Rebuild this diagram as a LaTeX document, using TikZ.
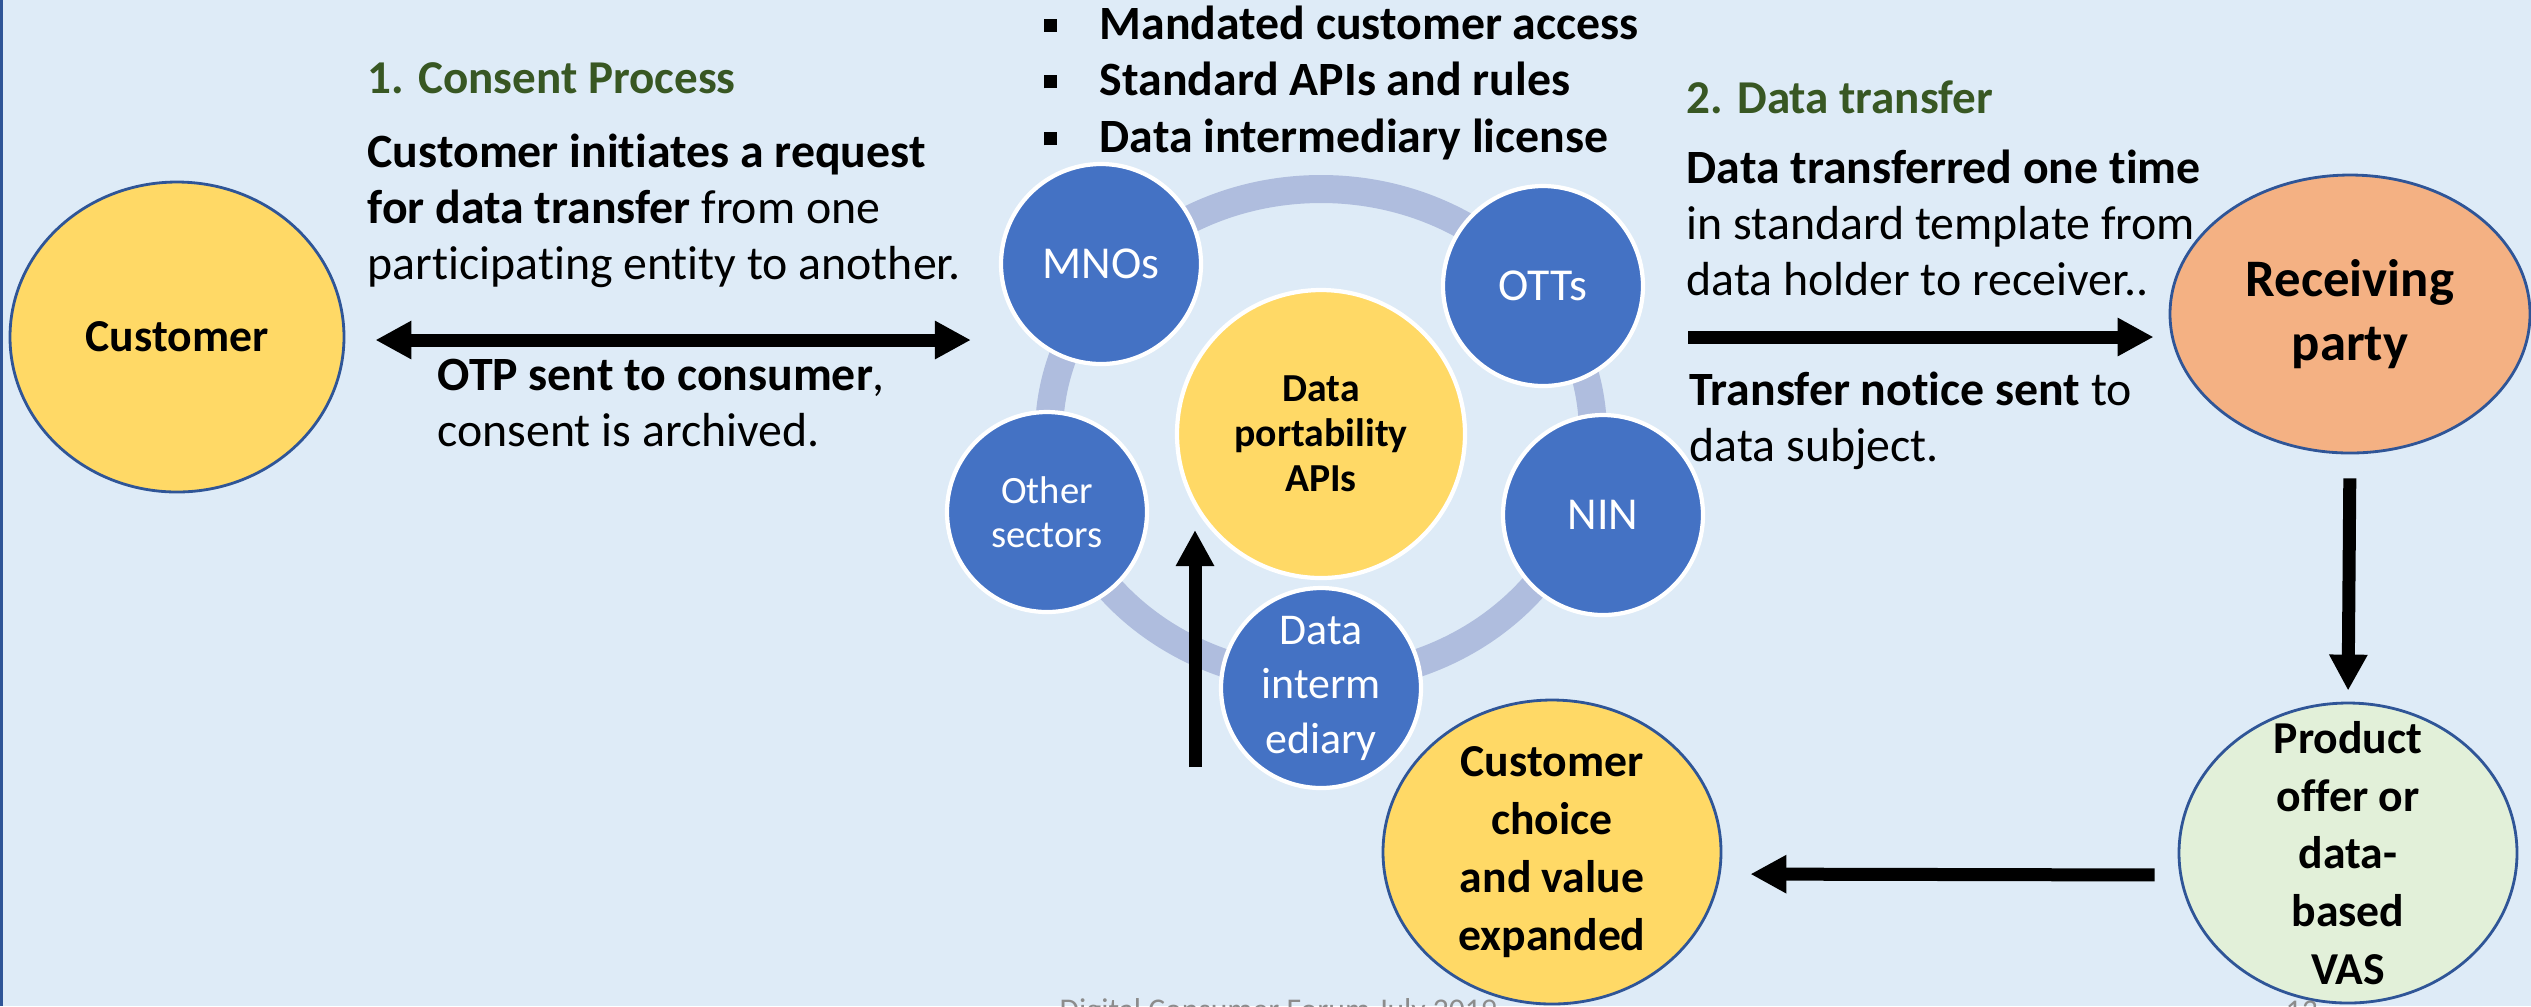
\documentclass[tikz,border=0pt]{standalone}
\usepackage{fontspec}
\setmainfont{Carlito}[Ligatures=NoCommon]
\usepackage{tikz}
\usetikzlibrary{arrows.meta,shapes.geometric,calc}
\definecolor{figbg}{RGB}{222,235,247}
\definecolor{figblue}{RGB}{68,114,196}
\definecolor{figyel}{RGB}{255,217,102}
\definecolor{figring}{RGB}{175,189,222}
\definecolor{figsal}{RGB}{244,177,131}
\definecolor{figmint}{RGB}{226,240,217}
\definecolor{figedge}{RGB}{47,85,151}
\definecolor{fighead}{RGB}{56,87,35}
\definecolor{figfoot}{RGB}{140,140,140}
\newcommand{\stack}[1]{\begin{tabular}[t]{@{}l@{}}#1\end{tabular}}
\newcommand{\sqb}{\rule[0.075cm]{0.13cm}{0.13cm}}
\tikzset{
  txt/.style ={anchor=base west, inner sep=0pt, font=\fontsize{13.6}{16}\selectfont},
  hd/.style  ={txt, text=fighead, font=\fontsize{13.4}{16}\selectfont\bfseries},
  bub/.style ={circle, fill=figblue, draw=white, line width=1.2pt, minimum size=2cm, inner sep=-0.3cm, text=white, align=center, font=\fontsize{13}{16}\selectfont},
  hub/.style ={circle, fill=figyel, draw=white, line width=1.2pt, minimum size=2.88cm, inner sep=-0.3cm, align=center, font=\fontsize{11.3}{12.8}\selectfont\bfseries},
  oval/.style={ellipse, draw=figedge, line width=0.8pt, inner sep=-1cm, align=center, font=\fontsize{13}{16.4}\selectfont\bfseries},
  ring/.style={draw=figring, line width=0.28cm},
  ptr/.style ={draw=black, line width=0.13cm, >={Triangle[length=0.36cm,width=0.36cm]}},
  foot/.style={anchor=north west, inner sep=0pt, text=figfoot, font=\fontsize{9}{11}\selectfont},
}

\begin{document}
\begin{tikzpicture}
  \useasboundingbox (0,0) rectangle (25.31,-10.06);
  \clip (0,0) rectangle (25.31,-10.06);
  \fill[figbg] (0,0) rectangle (25.31,-10.06);
  \draw[figedge,line width=1pt] (0.015,0) -- (0.015,-10.06);

  \node[hd] (h1) at (3.67,-0.93) {1. Consent Process};
  \node[txt] (t1) at (3.67,-1.67) {\stack{\textbf{Customer initiates a request}\\ \textbf{for data transfer} from one\\ participating entity to another.}};
  \node[txt] (t2) at (4.37,-3.90) {\stack{\textbf{OTP sent to consumer},\\ consent is archived.}};
  \node[txt,font=\fontsize{13.6}{16.2}\selectfont\bfseries] (rules) at (10.43,-0.39) {\begin{tabular}[t]{@{}l@{\hspace{0.43cm}}l@{}}\sqb & Mandated customer access\\ \sqb & Standard APIs and rules\\ \sqb & Data intermediary license\end{tabular}};
  \node[hd] (h2) at (16.86,-1.13) {2. Data transfer};
  \node[txt] (t3) at (16.86,-1.83) {\stack{\textbf{Data transferred one time}\\ in standard template from\\ data holder to receiver..}};
  \node[txt] (t4) at (16.89,-4.05) {\stack{\textbf{Transfer notice sent} to\\ data subject.}};

  \node[hub] (apis) at (13.21,-4.34) {Data\\ portability\\ APIs};
  \draw[ring] (apis.center) ellipse [x radius=2.72cm, y radius=2.45cm];
  \node[bub] (mnos) at (11.01,-2.64) {MNOs};
  \node[bub] (otts) at (15.43,-2.86) {OTTs};
  \node[bub] (nin) at (16.03,-5.15) {NIN};
  \node[bub,font=\fontsize{12.5}{15.5}\selectfont] (inter) at (13.21,-6.88) {Data\\ interm\\ ediary};
  \node[bub,font=\fontsize{11}{12.5}\selectfont] (other) at (10.47,-5.12) {Other\\ sectors};

  \node[oval,fill=figyel,minimum width=3.34cm,minimum height=3.10cm] (cust) at (1.77,-3.37) {Customer};
  \node[oval,fill=figsal,minimum width=3.60cm,minimum height=2.78cm,font=\fontsize{15}{18}\selectfont\bfseries] (recv) at (23.50,-3.14) {Receiving\\ party};
  \node[oval,fill=figmint,minimum width=3.38cm,minimum height=3.00cm] (prod) at (23.48,-8.53) {Product\\ offer or\\ data-\\ based\\ VAS};
  \node[oval,fill=figyel,minimum width=3.38cm,minimum height=3.04cm,font=\fontsize{13}{16.5}\selectfont\bfseries] (choice) at (15.52,-8.52) {Customer\\ choice\\ and value\\ expanded};

  \coordinate (s2) at (16.88,-3.37);
  \coordinate (s3) at (11.95,-7.67);
  \draw[ptr,<->,shorten <=0.30cm,shorten >=0.28cm] ([yshift=-0.03cm]cust.east) -- ([yshift=-0.03cm]cust.east -| mnos.west);
  \draw[ptr,->,shorten >=0.15cm] (s2) -- (s2 -| recv.west);
  \draw[ptr,->,shorten <=0.24cm,shorten >=0.11cm] (recv.south) -- (prod.north);
  \draw[ptr,->,shorten <=0.23cm,shorten >=0.28cm] ([yshift=-0.22cm]prod.west) -- ([yshift=-0.22cm]choice.east);
  \draw[ptr,->] (s3) -- ++(0,2.37);

  \node[foot] (ft) at (10.59,-9.98) {Digital Consumer Forum July 2019};
  \node[foot] (pg) at (22.85,-10.00) {13};
\end{tikzpicture}
\end{document}
